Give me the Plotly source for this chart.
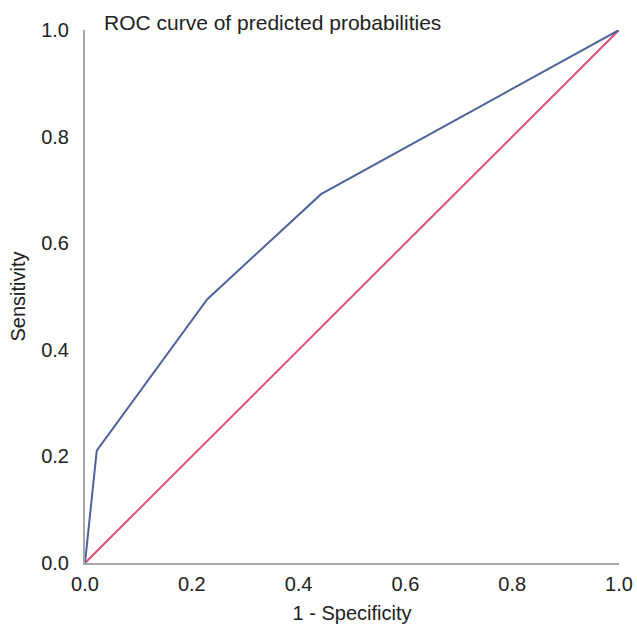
import plotly.graph_objects as go

fpr = [0.0, 0.022, 0.229, 0.442, 1.0]
tpr = [0.0, 0.211, 0.495, 0.692, 1.0]
ref_x = [0.0, 1.0]
ref_y = [0.0, 1.0]
tick_vals = [0.0, 0.2, 0.4, 0.6, 0.8, 1.0]
tick_text = ["0.0", "0.2", "0.4", "0.6", "0.8", "1.0"]

fig = go.Figure()
fig.add_trace(go.Scatter(x=ref_x, y=ref_y, mode="lines",
                         line=dict(color="#de4f78", width=2), showlegend=False))
fig.add_trace(go.Scatter(x=fpr, y=tpr, mode="lines",
                         line=dict(color="#4f639c", width=2), showlegend=False))

font = dict(family="Liberation Sans, Arial, sans-serif", size=20, color="#222222")
fig.update_layout(
    width=637, height=629,
    margin=dict(l=85, r=18, t=30, b=66, autoexpand=False),
    paper_bgcolor="white", plot_bgcolor="white",
    font=font,
    showlegend=False,
)
fig.update_xaxes(range=[0, 1], tickvals=tick_vals, ticktext=tick_text,
                 showgrid=False, zeroline=False, showline=True,
                 linecolor="#a8a8a8", linewidth=2, ticks="",
                 ticklabelstandoff=2,
                 title=dict(text="1 - Specificity", standoff=12,
                            font=dict(size=20)),
                 tickfont=dict(size=20))
fig.update_yaxes(range=[0, 1], tickvals=tick_vals, ticktext=tick_text,
                 showgrid=False, zeroline=False, showline=True,
                 linecolor="#a8a8a8", linewidth=2, ticks="",
                 ticklabelstandoff=10,
                 title=dict(text="Sensitivity", standoff=10,
                            font=dict(size=20)),
                 tickfont=dict(size=20))
fig.add_annotation(text="ROC curve of predicted probabilities",
                   xref="paper", yref="paper", x=0.032, y=1.015,
                   xanchor="left", yanchor="middle", showarrow=False,
                   font=dict(size=21, color="#222222"))
fig.write_html("out.html",
               config={"displayModeBar": False},
               post_script="document.body.style.margin='0';document.body.style.overflow='hidden';")
